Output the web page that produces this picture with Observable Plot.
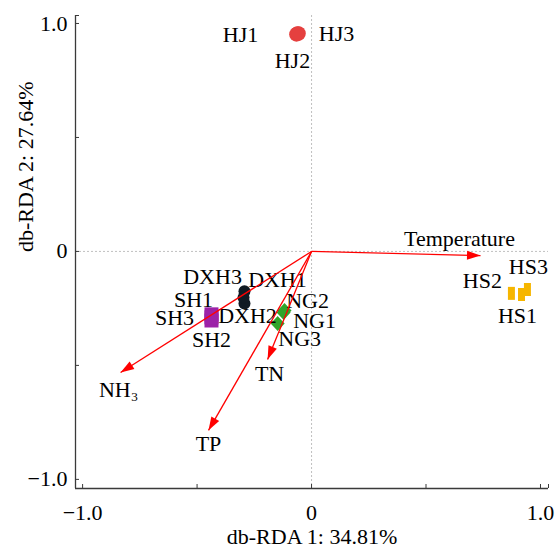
<!DOCTYPE html>
<html><head><meta charset="utf-8">
<script src="https://cdn.jsdelivr.net/npm/d3@7"></script>
<script src="https://cdn.jsdelivr.net/npm/@observablehq/plot@0.6"></script>
<style>html,body{margin:0;padding:0;background:#fff}</style>
</head><body><div id="chart"></div>
<script>
// ---- data ----
const samples = ["HJ1","HJ2","HJ3","DXH1","DXH2","DXH3","SH1","SH2","SH3","NG1","NG2","NG3","HS1","HS2","HS3"];
const groups  = ["HJ","HJ","HJ","DXH","DXH","DXH","SH","SH","SH","NG","NG","NG","HS","HS","HS"];
const rda1 = [-0.061,-0.066,-0.057,-0.293,-0.293,-0.297,-0.437,-0.437,-0.437,-0.122,-0.118,-0.148,0.917,0.873,0.943];
const rda2 = [0.956,0.952,0.956,-0.175,-0.228,-0.202,-0.276,-0.303,-0.289,-0.268,-0.259,-0.316,-0.189,-0.184,-0.167];
const envVars = ["Temperature","NH\u2083","TP","TN"];
const envRda1 = [0.738,-0.834,-0.450,-0.192];
const envRda2 = [-0.018,-0.531,-0.785,-0.474];
const axisTicks = [-1,-0.5,0,0.5,1];
const tickLabels = ["\u22121.0","","0","","1.0"];
const xTitle = "db-RDA 1: 34.81%";
const yTitle = "db-RDA 2: 27.64%";

// ---- styling ----
const xDomain = [-1.031, 1.035];
const yDomain = [-1.04, 1.035];
const W = 557, H = 550, ML = 75, MR = 9, MT = 15, MB = 62;
const labelDx = [-57,-4,38, 33,3,-31, -18,0,-37, 31,23,22, -4,-29,1];
const labelDy = [1,27,0, -11,13,-21, -14,19,1, 8,-10,15, 21,-12,-23];
const envDx = [-21,-2,0,2];
const envDy = [-17,17,14,14];

const sq = {draw(c){c.rect(-7,-7,14,14);}};
const diamond = {draw(c){c.moveTo(0,-7.5);c.lineTo(7,0);c.lineTo(0,7.5);c.lineTo(-7,0);c.closePath();}};
const tallRect = {draw(c){c.rect(-3.5,-6.5,7,13);}};
const head = {draw(c){c.moveTo(0,0);c.lineTo(4.5,13.5);c.lineTo(-4.5,13.5);c.closePath();}};

const groupStyle = {
  HJ:  {fill:"#e5403f", symbol:"circle", r:7.3},
  DXH: {fill:"#101a24", symbol:"circle", r:6},
  SH:  {fill:"#9c22a8", symbol:sq, r:5},
  NG:  {fill:"#2fa52a", symbol:diamond, r:5},
  HS:  {fill:"#f6b600", symbol:tallRect, r:5}
};

const idx = samples.map((_, i) => i);
const eIdx = envVars.map((_, i) => i);
const kx = (W - ML - MR) / (xDomain[1] - xDomain[0]);
const ky = (H - MT - MB) / (yDomain[1] - yDomain[0]);
const angle = i => Math.atan2(envRda1[i] * kx, envRda2[i] * ky) * 180 / Math.PI;

const pointMarks = Object.keys(groupStyle).map(g => {
  const s = groupStyle[g];
  return Plot.dot(idx.filter(i => groups[i] === g), {
    x: i => rda1[i], y: i => rda2[i], fill: s.fill, stroke: "none",
    symbol: s.symbol, r: s.r
  });
});
const sampleLabels = idx.map(i => Plot.text([i], {
  x: j => rda1[j], y: j => rda2[j], text: j => samples[j],
  dx: labelDx[i], dy: labelDy[i], fill: "#000"
}));
const envLabels = eIdx.map(i => Plot.text([i], {
  x: j => envRda1[j], y: j => envRda2[j], text: j => envVars[j],
  dx: envDx[i], dy: envDy[i], fill: "#000"
}));

const endTicksX = [...axisTicks, xDomain[1]];
const endTicksY = [...axisTicks, yDomain[1]];

const chart = Plot.plot({
  width: W, height: H,
  marginLeft: ML, marginRight: MR, marginTop: MT, marginBottom: MB,
  x: {domain: xDomain},
  y: {domain: yDomain},
  style: {fontFamily: "'Liberation Serif','Times New Roman',serif", fontSize: "22px", background: "#fff", color: "#000"},
  marks: [
    Plot.ruleX([0], {stroke: "#b0b0b0", strokeWidth: 0.8, strokeDasharray: "2,2"}),
    Plot.ruleY([0], {stroke: "#b0b0b0", strokeWidth: 0.8, strokeDasharray: "2,2"}),
    Plot.ruleX([xDomain[0]], {stroke: "#3a3a3a", strokeWidth: 1.3}),
    Plot.ruleY([yDomain[0]], {stroke: "#3a3a3a", strokeWidth: 1.3}),
    Plot.axisX(endTicksX, {tickSize: -4, tickFormat: () => "", stroke: "#3a3a3a", label: null}),
    Plot.axisY(endTicksY, {tickSize: -4, tickFormat: () => "", stroke: "#3a3a3a", label: null}),
    Plot.axisX(axisTicks, {tickSize: 0, tickPadding: 16, tickFormat: d => tickLabels[axisTicks.indexOf(d)], label: null, fill: "#000"}),
    Plot.axisY(axisTicks, {tickSize: 0, tickPadding: 8, tickFormat: d => tickLabels[axisTicks.indexOf(d)], label: null, fill: "#000"}),
    Plot.text([xTitle], {frameAnchor: "bottom", dy: 48, lineAnchor: "middle", fill: "#000"}),
    Plot.text([yTitle], {frameAnchor: "left", dx: -50, rotate: -90, lineAnchor: "middle", fill: "#000"}),
    ...pointMarks,
    ...sampleLabels,
    ...envLabels,
    Plot.link(eIdx, {x1: () => 0, y1: () => 0, x2: i => envRda1[i], y2: i => envRda2[i], stroke: "#ff0000", strokeWidth: 1.3}),
    Plot.dot(eIdx, {x: i => envRda1[i], y: i => envRda2[i], rotate: angle, symbol: head, fill: "#ff0000", stroke: "none"})
  ]
});
document.getElementById("chart").appendChild(chart);
</script>
</body></html>
